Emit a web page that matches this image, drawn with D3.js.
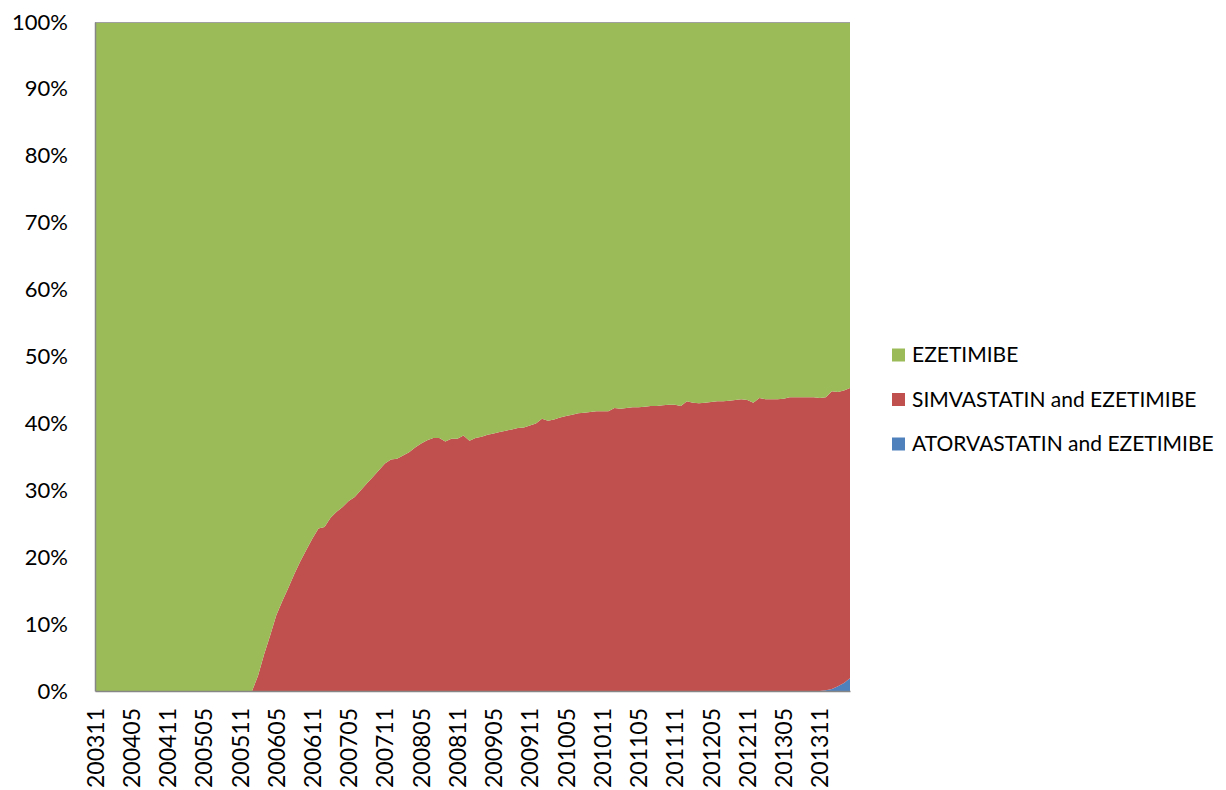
<!DOCTYPE html>
<html>
<head>
<meta charset="utf-8">
<script src="https://cdn.jsdelivr.net/npm/d3@7"></script>
<style>
  html, body { margin: 0; padding: 0; background: #ffffff; }
  svg { display: block; }
  text { font-family: Lato, "Open Sans", "Liberation Sans", sans-serif; fill: #000; }
</style>
</head>
<body>
<svg id="chart" width="1226" height="790"></svg>
<script>
// Monthly share of prescriptions, Nov 2003 – Apr 2014 (percent of total)
const months = d3.timeMonth.range(new Date(2003, 10, 1), new Date(2014, 4, 1))
  .map(d3.timeFormat("%Y%m"));

const seriesNames = ["ATORVASTATIN and EZETIMIBE", "SIMVASTATIN and EZETIMIBE", "EZETIMIBE"];
const seriesColors = ["#4F81BD", "#C0504D", "#9BBB59"];

const atorvastatinEzetimibe = Array(121).fill(0).concat([0.1, 0.3, 0.7, 1.2, 1.9]);

const simvastatinEzetimibe = Array(27).fill(0).concat([
  2.3, 5.5, 8.3, 11.3, 13.4, 15.4, 17.5, 19.4, 21.1, 22.8,
  24.3, 24.5, 25.9, 26.8, 27.5, 28.4, 29.0, 30.0, 31.0, 32.0,
  33.0, 34.0, 34.6, 34.7, 35.2, 35.7, 36.4, 37.0, 37.5, 37.8,
  37.8, 37.3, 37.7, 37.7, 38.2, 37.4, 37.8, 38.0, 38.3, 38.5,
  38.7, 38.9, 39.1, 39.3, 39.4, 39.7, 40.0, 40.7, 40.4, 40.6,
  40.9, 41.1, 41.3, 41.5, 41.6, 41.7, 41.8, 41.8, 41.8, 42.3,
  42.2, 42.3, 42.4, 42.4, 42.5, 42.6, 42.6, 42.7, 42.8, 42.8,
  42.6, 43.3, 43.1, 43.0, 43.1, 43.2, 43.3, 43.3, 43.4, 43.5,
  43.6, 43.5, 43.1, 43.8, 43.6, 43.6, 43.6, 43.7, 43.9, 43.9,
  43.9, 43.9, 43.9, 43.8, 43.8, 44.5, 44.0, 43.7, 43.4
]);

const ezetimibe = Array(27).fill(100).concat([
  97.7, 94.5, 91.7, 88.7, 86.6, 84.6, 82.5, 80.6, 78.9, 77.2,
  75.7, 75.5, 74.1, 73.2, 72.5, 71.6, 71.0, 70.0, 69.0, 68.0,
  67.0, 66.0, 65.4, 65.3, 64.8, 64.3, 63.6, 63.0, 62.5, 62.2,
  62.2, 62.7, 62.3, 62.3, 61.8, 62.6, 62.2, 62.0, 61.7, 61.5,
  61.3, 61.1, 60.9, 60.7, 60.6, 60.3, 60.0, 59.3, 59.6, 59.4,
  59.1, 58.9, 58.7, 58.5, 58.4, 58.3, 58.2, 58.2, 58.2, 57.7,
  57.8, 57.7, 57.6, 57.6, 57.5, 57.4, 57.4, 57.3, 57.2, 57.2,
  57.4, 56.7, 56.9, 57.0, 56.9, 56.8, 56.7, 56.7, 56.6, 56.5,
  56.4, 56.5, 56.9, 56.2, 56.4, 56.4, 56.4, 56.3, 56.1, 56.1,
  56.1, 56.1, 56.1, 56.2, 56.1, 55.2, 55.3, 55.1, 54.7
]);

const yTickValues = [0, 0.1, 0.2, 0.3, 0.4, 0.5, 0.6, 0.7, 0.8, 0.9, 1];
const xTickEvery = 6;

// Table for the stack
const rows = months.map((m, i) => ({
  month: m,
  [seriesNames[0]]: atorvastatinEzetimibe[i],
  [seriesNames[1]]: simvastatinEzetimibe[i],
  [seriesNames[2]]: ezetimibe[i]
}));

const margin = { left: 95, right: 376, top: 22, bottom: 99 };
const width = 1226, height = 790;
const svg = d3.select("#chart");

const x = d3.scalePoint().domain(months).range([margin.left, width - margin.right]);
const y = d3.scaleLinear().domain([0, 1]).range([height - margin.bottom, margin.top]);

const stack = d3.stack().keys(seriesNames).offset(d3.stackOffsetExpand);
const layers = stack(rows);

const area = d3.area()
  .x(d => x(d.data.month))
  .y0(d => y(d[0]))
  .y1(d => y(d[1]));

const color = d3.scaleOrdinal().domain(seriesNames).range(seriesColors);

svg.append("g")
  .selectAll("path")
  .data(layers)
  .join("path")
  .attr("d", area)
  .attr("fill", d => color(d.key));

// Plot outline on top and left
svg.append("line")
  .attr("x1", margin.left).attr("x2", width - margin.right)
  .attr("y1", margin.top + 0.5).attr("y2", margin.top + 0.5)
  .attr("stroke", "#a0a0a0").attr("stroke-width", 1);

// Value axis
const yAxis = svg.append("g")
  .attr("transform", `translate(${margin.left},0)`)
  .call(d3.axisLeft(y).tickValues(yTickValues).tickFormat(d3.format(".0%")).tickSize(0).tickPadding(27));
yAxis.select(".domain").attr("stroke", "#868686").attr("stroke-width", 1.5);
yAxis.selectAll("text").attr("font-size", 22).style("font-family", "Lato, sans-serif");

// Category axis
const xAxis = svg.append("g")
  .attr("transform", `translate(0,${height - margin.bottom})`)
  .call(d3.axisBottom(x)
    .tickValues(months.filter((m, i) => i % xTickEvery === 0))
    .tickSize(0));
xAxis.select(".domain").attr("stroke", "#868686").attr("stroke-width", 1.5);
xAxis.selectAll("text")
  .attr("font-size", 23)
  .style("font-family", "Lato, sans-serif")
  .attr("transform", "rotate(-90)")
  .attr("text-anchor", "end")
  .attr("x", -17)
  .attr("y", 0)
  .attr("dy", "0.35em");

// Legend, top series first
const legendItems = seriesNames.slice().reverse();
const legend = svg.append("g").attr("transform", "translate(892,355)");
const li = legend.selectAll("g")
  .data(legendItems)
  .join("g")
  .attr("transform", (d, i) => `translate(0,${i * 44.5})`);
li.append("rect")
  .attr("x", 0).attr("y", -6.5)
  .attr("width", 13).attr("height", 13)
  .attr("fill", d => color(d));
li.append("text")
  .attr("x", 20).attr("y", 0).attr("dy", "0.35em")
  .attr("font-size", 21)
  .text(d => d);
</script>
</body>
</html>
